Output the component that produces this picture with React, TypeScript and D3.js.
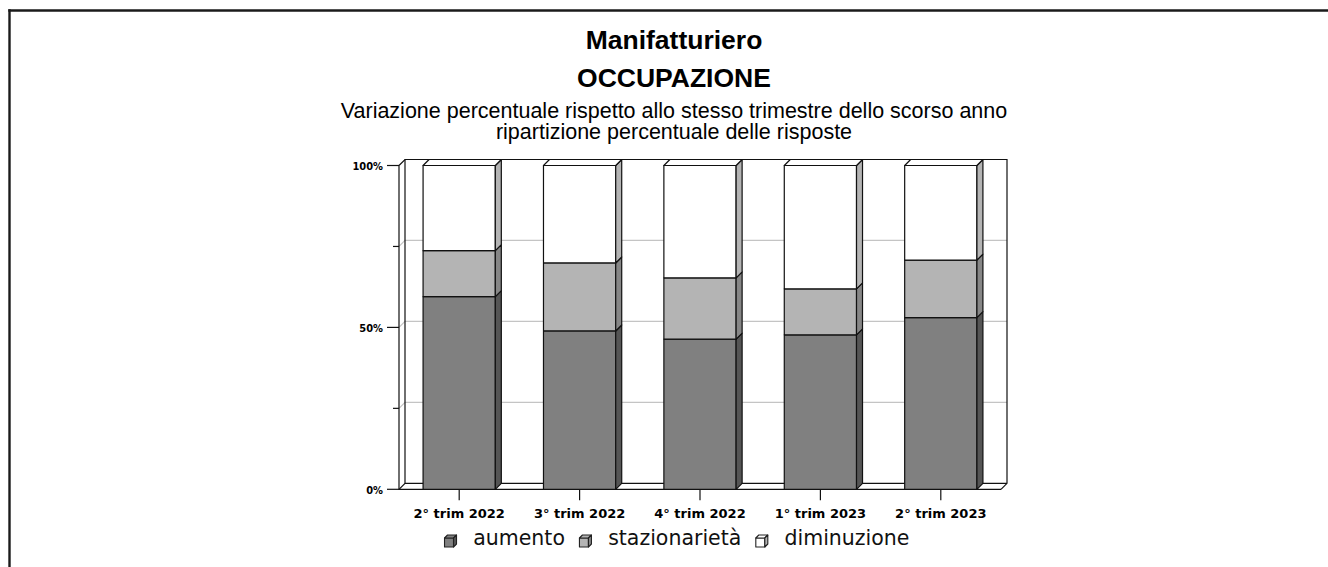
import { useEffect, useRef } from "react";
import * as d3 from "d3";

const categories = ["2° trim 2022", "3° trim 2022", "4° trim 2022", "1° trim 2023", "2° trim 2023"];
const aumento = [59.5, 48.9, 46.4, 47.7, 53.0];
const stazionarieta = [14.2, 21.0, 18.9, 14.2, 17.8];
const diminuzione = [26.3, 30.1, 34.7, 38.1, 29.2];
const seriesNames = ["aumento", "stazionarietà", "diminuzione"];
const yTicks = [0, 25, 50, 75, 100];

const fills = ["#808080", "#b4b4b4", "#ffffff"];
const sides = ["#555555", "#868686", "#b4b4b4"];
const dx = 6;
const dy = -6;
const plot = { left: 399, right: 1001, top: 165.5, bottom: 489.3 };
const titleFont = "'Liberation Sans', Arial, sans-serif";
const axisFont = "'DejaVu Sans', sans-serif";

const draw = (ref: SVGSVGElement) => {
  const svg = d3.select(ref);
  svg.selectAll("*").remove();
  const root = svg.append("g");

  // frame, cut at the right and bottom: left and top edges only
  root.append("line")
    .attr("x1", 9.5).attr("x2", 9.5).attr("y1", 9.3).attr("y2", 567)
    .attr("stroke", "#1a1a1a").attr("stroke-width", 2.4);
  root.append("line")
    .attr("x1", 8.3).attr("x2", 1328).attr("y1", 10.5).attr("y2", 10.5)
    .attr("stroke", "#1a1a1a").attr("stroke-width", 2.4);

  const cx = 674;
  root.append("text").text("Manifatturiero")
    .attr("x", cx).attr("y", 48.5)
    .attr("text-anchor", "middle")
    .style("font", `bold 26.5px ${titleFont}`);
  root.append("text").text("OCCUPAZIONE")
    .attr("x", cx).attr("y", 87)
    .attr("text-anchor", "middle")
    .style("font", `bold 26.5px ${titleFont}`);
  root.append("text").text("Variazione percentuale rispetto allo stesso trimestre dello scorso anno")
    .attr("x", cx).attr("y", 117.5)
    .attr("text-anchor", "middle")
    .style("font", `21.5px ${titleFont}`);
  root.append("text").text("ripartizione percentuale delle risposte")
    .attr("x", cx).attr("y", 139)
    .attr("text-anchor", "middle")
    .style("font", `21.5px ${titleFont}`);

  const y = d3.scaleLinear().domain([0, 100]).range([plot.bottom, plot.top]);
  const x = d3.scaleBand<string>()
    .domain(categories)
    .range([plot.left, plot.right])
    .paddingInner(0.4)
    .paddingOuter(0.2);

  // gridlines on back wall and left wall
  const grid = root.append("g");
  yTicks.filter((t) => t > 0 && t < 100).forEach((t) => {
    grid.append("path")
      .attr("d", `M${plot.left} ${y(t)} L${plot.left + dx} ${y(t) + dy} L${plot.right + dx} ${y(t) + dy}`)
      .attr("fill", "none")
      .attr("stroke", "#c4c4c4")
      .attr("stroke-width", 1.2);
  });

  // walls outline
  const wall = root.append("g").attr("fill", "none").attr("stroke", "#111").attr("stroke-width", 1.2);
  wall.append("path").attr("d",
    `M${plot.left} ${plot.top} L${plot.left + dx} ${plot.top + dy} L${plot.right + dx} ${plot.top + dy} L${plot.right + dx} ${plot.bottom + dy} L${plot.right} ${plot.bottom}`);
  wall.append("path").attr("d",
    `M${plot.left + dx} ${plot.top + dy} L${plot.left + dx} ${plot.bottom + dy} L${plot.right + dx} ${plot.bottom + dy}`);
  wall.append("path").attr("d",
    `M${plot.left} ${plot.bottom} L${plot.left + dx} ${plot.bottom + dy}`);
  wall.append("path").attr("d",
    `M${plot.left} ${plot.top} L${plot.left} ${plot.bottom} L${plot.right} ${plot.bottom}`);

  // y ticks and labels
  yTicks.forEach((t) => {
    const major = t % 50 === 0;
    root.append("line")
      .attr("x1", plot.left - (major ? 12 : 6)).attr("x2", plot.left)
      .attr("y1", y(t)).attr("y2", y(t))
      .attr("stroke", "#111").attr("stroke-width", 1.2);
    if (major) {
      root.append("text").text(`${t}%`)
        .attr("x", 383).attr("y", y(t) + 4.5)
        .attr("text-anchor", "end")
        .style("font", `bold 11px 'DejaVu Sans Condensed', ${axisFont}`);
    }
  });

  // x ticks and labels
  categories.forEach((c) => {
    const mx = x(c)! + x.bandwidth() / 2;
    root.append("line")
      .attr("x1", mx).attr("x2", mx)
      .attr("y1", plot.bottom).attr("y2", plot.bottom + 11)
      .attr("stroke", "#111").attr("stroke-width", 1.2);
    root.append("text").text(c)
      .attr("x", mx).attr("y", 517.5)
      .attr("text-anchor", "middle")
      .style("font", `bold 13px ${axisFont}`);
  });

  // stacked 3D bars
  const stack = categories.map((c, i) => {
    const vals = [aumento[i], stazionarieta[i], diminuzione[i]];
    let acc = 0;
    return vals.map((v, k) => {
      const seg = { c, k, y0: acc, y1: acc + v };
      acc += v;
      return seg;
    });
  });

  const bars = root.append("g").attr("stroke", "#111").attr("stroke-width", 1.2).attr("stroke-linejoin", "round");
  stack.forEach((segs) => {
    const g = bars.append("g");
    segs.forEach((s, k) => {
      const x0 = x(s.c)!;
      const x1 = x0 + x.bandwidth();
      const yb = y(s.y0);
      const yt = y(s.y1);
      g.append("rect")
        .attr("x", x0).attr("y", yt)
        .attr("width", x1 - x0).attr("height", yb - yt)
        .attr("fill", fills[s.k]);
      g.append("path")
        .attr("d", `M${x1} ${yb} L${x1 + dx} ${yb + dy} L${x1 + dx} ${yt + dy} L${x1} ${yt} Z`)
        .attr("fill", sides[s.k]);
      if (k === segs.length - 1) {
        g.append("path")
          .attr("d", `M${x0} ${yt} L${x0 + dx} ${yt + dy} L${x1 + dx} ${yt + dy} L${x1} ${yt} Z`)
          .attr("fill", "#ffffff");
      }
    });
  });

  // legend
  const legend = root.append("g");
  const items = seriesNames.map((name, i) => {
    const t = legend.append("text").text(name)
      .attr("y", 545)
      .style("font", `20.5px ${axisFont}`)
      .attr("fill", "#111");
    return { i, t, w: (t.node() as SVGTextElement).getComputedTextLength() };
  });
  const iconToText = 28.7;
  const gap = 14.5;
  const total = items.reduce((p, it) => p + iconToText + it.w, 0) + gap * (items.length - 1);
  let lx = 677 - total / 2;
  items.forEach((it) => {
    const ix = lx;
    const s = 9;
    const d = 3;
    const iy = 547;
    const ig = legend.append("g").attr("stroke", "#222").attr("stroke-width", 1.1).attr("stroke-linejoin", "round");
    ig.append("rect").attr("x", ix).attr("y", iy - s).attr("width", s).attr("height", s).attr("fill", fills[it.i]);
    ig.append("path")
      .attr("d", `M${ix} ${iy - s} L${ix + d} ${iy - s - d} L${ix + s + d} ${iy - s - d} L${ix + s} ${iy - s} Z`)
      .attr("fill", fills[it.i]);
    ig.append("path")
      .attr("d", `M${ix + s} ${iy} L${ix + s + d} ${iy - d} L${ix + s + d} ${iy - s - d} L${ix + s} ${iy - s} Z`)
      .attr("fill", sides[it.i]);
    it.t.attr("x", ix + iconToText);
    lx = ix + iconToText + it.w + gap;
  });
};

export default function App() {
  const ref = useRef<SVGSVGElement>(null);
  useEffect(() => {
    if (ref.current) draw(ref.current);
  }, []);
  return (
    <svg
      ref={ref}
      width={1328}
      height={567}
      style={{ position: "fixed", left: 0, top: 0, display: "block", background: "#fff" }}
    />
  );
}
